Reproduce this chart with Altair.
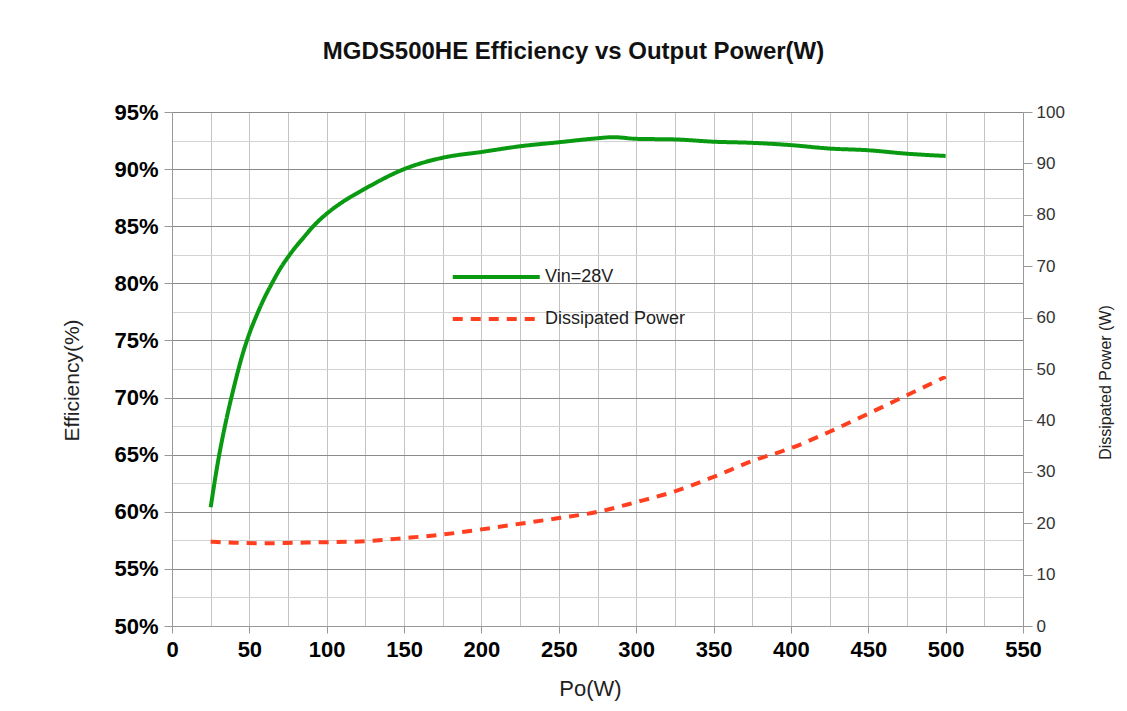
import altair as alt
import pandas as pd

# ---- data ----
po_eff = [25, 30, 35, 40, 45, 50, 55, 60, 65, 70, 75, 80, 85, 90, 95, 100, 110,
          125, 150, 175, 200, 225, 250, 275, 285, 300, 325, 350, 375, 400, 425,
          450, 475, 500]
efficiency = [60.4, 64.6, 68.0, 70.9, 73.5, 75.6, 77.3, 78.8, 80.1, 81.3, 82.3,
              83.2, 84.0, 84.8, 85.5, 86.1, 87.1, 88.3, 90.0, 91.0, 91.5, 92.0,
              92.35, 92.7, 92.8, 92.65, 92.6, 92.4, 92.3, 92.1, 91.8, 91.65,
              91.35, 91.15]

po_diss = [25, 40, 60, 80, 100, 125, 150, 175, 200, 225, 250, 275, 300, 325, 350,
           375, 400, 425, 450, 475, 500]
dissipated = [16.4, 16.2, 16.1, 16.2, 16.3, 16.5, 17.1, 17.8, 18.8, 19.9, 21.0,
              22.2, 24.1, 26.2, 29.0, 32.1, 34.6, 37.8, 41.3, 44.9, 48.5]

series_names = ["Vin=28V", "Dissipated Power"]
series_colors = ["#0a9a12", "#ff3f1f"]
series_dash = [[1, 0], [10, 8]]

x_ticks = list(range(0, 551, 25))
eff_ticks = [50 + 2.5 * i for i in range(19)]
pow_ticks = list(range(0, 101, 10))

title_text = "MGDS500HE Efficiency vs Output Power(W)"

eff_df = pd.DataFrame({"po": po_eff, "val": efficiency, "series": series_names[0]})
diss_df = pd.DataFrame({"po": po_diss, "val": dissipated, "series": series_names[1]})

FONT = "Liberation Sans"


def make_legend():
    # long line sample that extends to the left of the symbol column
    return alt.Legend(title=None, orient="none", legendX=322, legendY=141,
                      symbolType="M-3,0H1", symbolSize=1892,
                      symbolStrokeWidth=4, labelFontSize=18,
                      labelFont=FONT, labelColor="#222",
                      labelOffset=3, rowPadding=9, padding=0)


color = alt.Color("series:N",
                  scale=alt.Scale(domain=series_names, range=series_colors),
                  legend=make_legend())
dash = alt.StrokeDash("series:N",
                      scale=alt.Scale(domain=series_names, range=series_dash),
                      legend=make_legend())

x_axis = alt.Axis(values=x_ticks, title="Po(W)",
                  labelExpr="datum.value % 50 == 0 ? datum.label : ''",
                  labelFont=FONT, labelFontSize=22, labelFontWeight="bold",
                  labelColor="#000", labelPadding=6, labelFlush=False,
                  tickSize=7, tickColor="#999",
                  tickOpacity={"condition": {"test": "datum.value % 50 == 0", "value": 1}, "value": 0},
                  grid=True, gridColor="#c4c4c4", gridWidth=1,
                  domainColor="#999",
                  titleFont=FONT, titleFontSize=22, titleFontWeight="normal",
                  titleColor="#222", titleX=418, titleY=62, titleBaseline="middle")

eff_axis = alt.Axis(values=eff_ticks, title="Efficiency(%)",
                    labelExpr="datum.value % 5 == 0 ? datum.value + '%' : ''",
                    labelFont=FONT, labelFontSize=22, labelFontWeight="bold",
                    labelColor="#000", labelPadding=6, labelFlush=False,
                    tickSize=8, tickColor="#999",
                    tickOpacity={"condition": {"test": "datum.value % 5 == 0", "value": 1}, "value": 0},
                    grid=True, gridWidth=1,
                    gridColor={"condition": {"test": "datum.value % 5 == 0", "value": "#8a8a8a"}, "value": "#d2d2d2"},
                    domainColor="#999",
                    titleFont=FONT, titleFontSize=21, titleFontWeight="normal",
                    titleColor="#222", titleX=-100, titleY=268, titleBaseline="middle")

pow_axis = alt.Axis(values=pow_ticks, title="Dissipated Power (W)", orient="right",
                    labelFont=FONT, labelFontSize=17, labelColor="#333",
                    labelPadding=4, labelFlush=False, tickSize=9, tickColor="#999",
                    grid=False, domainColor="#999",
                    titleFont=FONT, titleFontSize=16, titleFontWeight="normal",
                    titleColor="#222", titleAngle=-90, titleX=82, titleY=270,
                    titleBaseline="middle")

x_enc = alt.X("po:Q", scale=alt.Scale(domain=[0, 550], nice=False), axis=x_axis)

eff_line = alt.Chart(eff_df).mark_line(strokeWidth=4, interpolate="monotone").encode(
    x=x_enc,
    y=alt.Y("val:Q", scale=alt.Scale(domain=[50, 95], nice=False, zero=False), axis=eff_axis),
    color=color,
    strokeDash=dash,
)

diss_line = alt.Chart(diss_df).mark_line(strokeWidth=4, interpolate="monotone").encode(
    x=x_enc,
    y=alt.Y("val:Q", scale=alt.Scale(domain=[0, 100], nice=False), axis=pow_axis),
    color=color,
    strokeDash=dash,
)

chart = alt.layer(eff_line, diss_line).resolve_scale(y="independent").properties(
    width=851, height=514,
    title=alt.TitleParams(title_text, font=FONT, fontSize=24, fontWeight="bold",
                          color="#111", anchor="middle", dx=-24, offset=37),
    autosize=alt.AutoSizeParams(type="none"),
    padding={"left": 164, "top": 104, "right": 96, "bottom": 75},
).configure_view(stroke=None).configure(background="white")

chart.save("out.html", embed_options={"renderer": "svg", "actions": False})
